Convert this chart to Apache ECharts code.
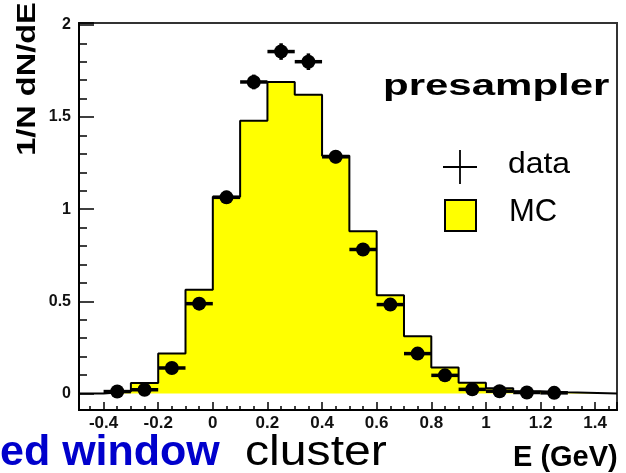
<!DOCTYPE html>
<html>
<head>
<meta charset="utf-8">
<script src="https://cdn.jsdelivr.net/npm/echarts@6/dist/echarts.min.js"></script>
<style>
  html, body { margin: 0; padding: 0; background: #fff; }
  #chart { width: 626px; height: 473px; }
</style>
</head>
<body>
<div id="chart"></div>
<script>
  // MC histogram: bin edges (left edges, 0.1 wide) and heights
  var binEdges = [-0.4, -0.3, -0.2, -0.1, 0.0, 0.1, 0.2, 0.3, 0.4, 0.5, 0.6, 0.7, 0.8, 0.9, 1.0, 1.1, 1.2, 1.3];
  var mcHeights = [0.01, 0.056, 0.216, 0.563, 1.067, 1.48, 1.69, 1.62, 1.29, 0.88, 0.533, 0.31, 0.14, 0.058, 0.028, 0.012, 0.006];
  // data points (bin centres), values and vertical errors
  var dataX = [-0.35, -0.25, -0.15, -0.05, 0.05, 0.15, 0.25, 0.35, 0.45, 0.55, 0.65, 0.75, 0.85, 0.95, 1.05, 1.15, 1.25];
  var dataY = [0.01, 0.02, 0.138, 0.487, 1.064, 1.69, 1.855, 1.80, 1.284, 0.781, 0.482, 0.216, 0.098, 0.022, 0.012, 0.005, 0.003];
  var dataErr = [0.01, 0.01, 0.02, 0.03, 0.035, 0.04, 0.045, 0.045, 0.035, 0.03, 0.025, 0.02, 0.015, 0.01, 0.01, 0.01, 0.01];
  var binHalf = 0.05;
  var xRange = [-0.49, 1.48];
  var yRange = [-0.09, 2.01];

  // step outline points: start at axis min, one point per left edge, back to zero
  var mcLine = [[xRange[0], 0]];
  for (var i = 0; i < mcHeights.length; i++) {
    mcLine.push([binEdges[i], mcHeights[i]]);
  }
  mcLine.push([binEdges[binEdges.length - 1], 0]);
  mcLine.push([xRange[1], 0]);

  var points = dataX.map(function (x, i) { return [x, dataY[i], dataErr[i]]; });

  var myChart = echarts.init(document.getElementById('chart'));
  var option = {
    backgroundColor: '#fff',
    animation: false,
    grid: {
      left: 79, right: 9, top: 23, bottom: 63,
      show: true,
      borderColor: '#333',
      borderWidth: 2
    },
    xAxis: {
      type: 'value',
      min: xRange[0],
      max: xRange[1],
      splitNumber: 10,
      axisLine: { onZero: false, lineStyle: { color: '#000', width: 2 } },
      axisTick: { inside: true, length: 8, lineStyle: { color: '#000', width: 1.5 } },
      minorTick: { show: true, splitNumber: 4, length: 4, lineStyle: { color: '#000', width: 1.5 } },
      splitLine: { show: false },
      axisLabel: {
        showMinLabel: false, showMaxLabel: false,
        margin: 5,
        fontFamily: 'Liberation Sans', fontWeight: 'bold', fontSize: 17, color: '#111'
      }
    },
    yAxis: {
      type: 'value',
      min: yRange[0],
      max: yRange[1],
      splitNumber: 4,
      axisLine: { onZero: false, lineStyle: { color: '#000', width: 2 } },
      axisTick: { inside: true, length: 15, lineStyle: { color: '#000', width: 1.5 } },
      minorTick: { show: true, splitNumber: 5, length: 8, lineStyle: { color: '#000', width: 1.5 } },
      splitLine: { show: false },
      axisLabel: {
        showMinLabel: false, showMaxLabel: false,
        margin: 8,
        fontFamily: 'Liberation Sans', fontWeight: 'bold', fontSize: 16, color: '#111'
      }
    },
    graphic: [
      {
        type: 'text', x: 28, y: 79, rotation: Math.PI / 2, scaleX: 1.25,
        style: { text: '1/N dN/dE', font: 'bold 26px "Liberation Sans"', fill: '#000', textAlign: 'center', textVerticalAlign: 'middle' }
      },
      {
        type: 'text', x: 383, y: 86.5, scaleX: 1.4,
        style: { text: 'presampler', font: 'bold 30px "Liberation Sans"', fill: '#000', textAlign: 'left', textVerticalAlign: 'middle' }
      },
      { type: 'line', shape: { x1: 443, y1: 167, x2: 477, y2: 167 }, style: { stroke: '#000', lineWidth: 1.8 } },
      { type: 'line', shape: { x1: 460, y1: 150, x2: 460, y2: 184 }, style: { stroke: '#000', lineWidth: 1.8 } },
      {
        type: 'text', x: 508, y: 165, scaleX: 1.1,
        style: { text: 'data', font: '29px "Liberation Sans"', fill: '#000', textAlign: 'left', textVerticalAlign: 'middle' }
      },
      { type: 'rect', shape: { x: 445, y: 200, width: 31, height: 31 }, style: { fill: '#ffff00', stroke: '#000', lineWidth: 2 } },
      {
        type: 'text', x: 509, y: 212,
        style: { text: 'MC', font: '31px "Liberation Sans"', fill: '#000', textAlign: 'left', textVerticalAlign: 'middle' }
      },
      {
        type: 'text', x: 0, y: 453,
        style: { text: 'ed window', font: 'bold 43px "Liberation Sans"', fill: '#0000cc', textAlign: 'left', textVerticalAlign: 'middle' }
      },
      {
        type: 'text', x: 245, y: 453, scaleX: 1.12,
        style: { text: 'cluster', font: '43px "Liberation Sans"', fill: '#000', textAlign: 'left', textVerticalAlign: 'middle' }
      },
      {
        type: 'text', x: 513, y: 458,
        style: { text: 'E (GeV)', font: 'bold 29px "Liberation Sans"', fill: '#000', textAlign: 'left', textVerticalAlign: 'middle' }
      }
    ],
    series: [
      {
        name: 'MC',
        type: 'line',
        step: 'end',
        data: mcLine,
        showSymbol: false,
        smooth: false,
        lineStyle: { color: '#000', width: 2 },
        areaStyle: { color: '#ffff00', opacity: 1 },
        z: 2
      },
      {
        name: 'data',
        type: 'custom',
        data: points,
        renderItem: function (params, api) {
          var x = api.value(0), y = api.value(1), e = api.value(2);
          var l = api.coord([x - binHalf, y]);
          var r = api.coord([x + binHalf, y]);
          var t = api.coord([x, y + e]);
          var b = api.coord([x, y - e]);
          return {
            type: 'group',
            children: [
              { type: 'line', shape: { x1: l[0], y1: l[1], x2: r[0], y2: r[1] }, style: { stroke: '#000', lineWidth: 3.5 } },
              { type: 'line', shape: { x1: t[0], y1: t[1], x2: b[0], y2: b[1] }, style: { stroke: '#000', lineWidth: 3.5 } }
            ]
          };
        },
        z: 3
      },
      {
        name: 'data',
        type: 'scatter',
        data: points,
        symbol: 'circle',
        symbolSize: 14,
        itemStyle: { color: '#000', opacity: 1 },
        z: 4
      }
    ]
  };
  myChart.setOption(option);
</script>
</body>
</html>
